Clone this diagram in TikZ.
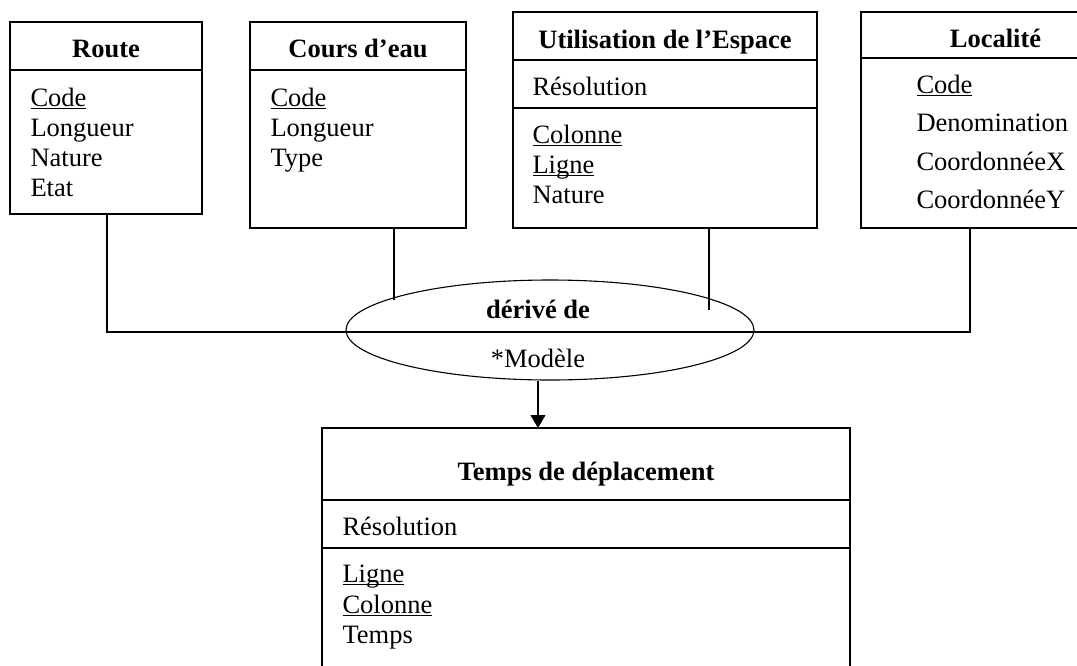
\documentclass[tikz,border=0pt]{standalone}
\usepackage{fontspec}
\setmainfont{Liberation Serif}
\usetikzlibrary{positioning, arrows.meta, shapes.geometric}

% key attribute: underline at a fixed depth
\newcommand\keyattr[1]{\setbox0\hbox{#1}\rlap{\rule[-3pt]{\wd0}{1.1pt}}\box0}

\begin{document}
\begin{tikzpicture}[x=1pt, y=-1pt, >={Triangle[length=13pt, width=15pt]}, line width=1.1pt,
  every node/.style={font=\fontsize{26.5}{30}\selectfont},
  entity/.style={draw, rectangle, inner sep=0pt},
  attr/.style={anchor=base west, inner sep=0pt},
  title/.style={anchor=base, inner sep=0pt, font=\fontsize{26.5}{30}\selectfont\bfseries}]
  \useasboundingbox (0,0) rectangle (1077,665);

  % entities
  \node[entity, minimum width=192pt, minimum height=192pt] (route) at (106,118) {};
  \node[entity, minimum width=216pt, minimum height=206pt] (cours) at (358,125) {};
  \node[entity, minimum width=304pt, minimum height=216pt] (util) at (665,120) {};
  \node[entity, minimum width=269pt, minimum height=216pt] (loc) at (995.5,120) {};
  \node[entity, minimum width=528pt, minimum height=272pt] (temps) at (586,564) {};
  \node[draw, ellipse, minimum width=408pt, minimum height=100pt, inner sep=0pt] (deriv) at (550,330) {};

  % compartment lines
  \draw (route.west |- 0,70) -- (route.east |- 0,70);
  \draw (cours.west |- 0,70) -- (cours.east |- 0,70);
  \draw (util.west |- 0,60) -- (util.east |- 0,60);
  \draw (util.west |- 0,108) -- (util.east |- 0,108);
  \draw (loc.west |- 0,58) -- (loc.east |- 0,58);
  \draw (temps.west |- 0,500) -- (temps.east |- 0,500);
  \draw (temps.west |- 0,548) -- (temps.east |- 0,548);

  % Route
  \node[title] (route-t) at (106,57) {Route};
  \node[attr] (route-a1) at (30,106) {\keyattr{Code}};
  \node[attr] (route-a2) at (30,136) {Longueur};
  \node[attr] (route-a3) at (30,166) {Nature};
  \node[attr] (route-a4) at (30,196) {Etat};

  % Cours d'eau
  \node[title] (cours-t) at (358,57) {Cours d’eau};
  \node[attr] (cours-a1) at (270,106) {\keyattr{Code}};
  \node[attr] (cours-a2) at (270,136) {Longueur};
  \node[attr] (cours-a3) at (270,166) {Type};

  % Utilisation de l'Espace
  \node[title] (util-t) at (665,48) {Utilisation de l’Espace};
  \node[attr] (util-r) at (532,95) {Résolution};
  \node[attr] (util-a1) at (532,143) {\keyattr{Colonne}};
  \node[attr] (util-a2) at (532,173) {\keyattr{Ligne}};
  \node[attr] (util-a3) at (532,203) {Nature};

  % Localite
  \node[title] (loc-t) at (995.5,47) {Localité};
  \node[attr] (loc-a1) at (916,93) {\keyattr{Code}};
  \node[attr] (loc-a2) at (916,131.5) {Denomination};
  \node[attr] (loc-a3) at (916,170) {CoordonnéeX};
  \node[attr] (loc-a4) at (916,208.5) {CoordonnéeY};

  % relation
  \node[title] (deriv-t) at (538,318) {dérivé de};
  \node[attr, anchor=base] (deriv-m) at (538,367) {*Modèle};

  % Temps de deplacement
  \node[title] (temps-t) at (586,480) {Temps de déplacement};
  \node[attr] (temps-r) at (342,535) {Résolution};
  \node[attr] (temps-a1) at (342,582) {\keyattr{Ligne}};
  \node[attr] (temps-a2) at (342,613) {\keyattr{Colonne}};
  \node[attr] (temps-a3) at (342,643) {Temps};

  % connectors
  \coordinate (busL) at (107,332);
  \coordinate (busR) at (970,332);
  \coordinate (cours-end) at (394,300);
  \coordinate (util-end) at (709,310);
  \coordinate (tip) at (538,428);
  \draw (busL |- route.south) -- (busL) -- (busR) -- (busR |- loc.south);
  \draw (cours-end |- cours.south) -- (cours-end);
  \draw (util-end |- util.south) -- (util-end);
  \draw[->] (tip |- deriv.south) -- (tip);
\end{tikzpicture}
\end{document}
